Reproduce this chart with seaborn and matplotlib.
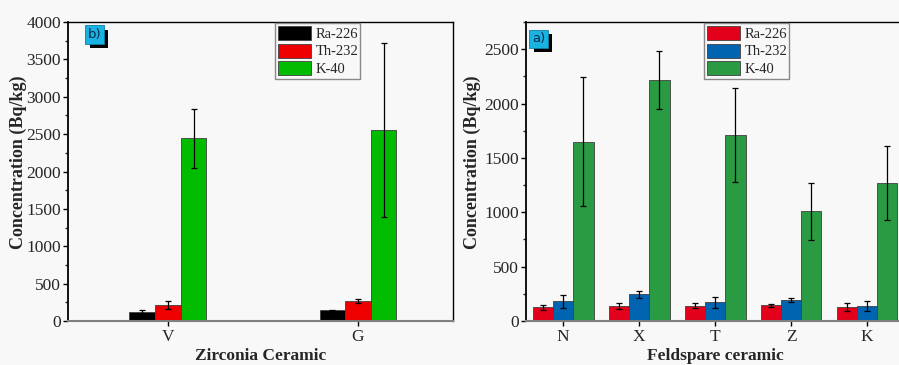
import numpy as np
import pandas as pd
import matplotlib
matplotlib.use('Agg')
import matplotlib.pyplot as plt
import matplotlib.patches as mpatches
import matplotlib.patheffects as pe
from matplotlib.ticker import MultipleLocator
import seaborn as sns

sns.set_style('ticks')
plt.rcParams['font.family'] = ['Liberation Serif', 'DejaVu Serif']

# data
isotopes = ['Ra-226', 'Th-232', 'K-40']

zr_samples = ['V', 'G']
zr_ra = [120, 145]
zr_th = [212, 265]
zr_k = [2445, 2555]
zr_ra_err = [27, 8]
zr_th_err = [55, 25]
zr_k_err = [392, 1165]

fs_samples = ['N', 'X', 'T', 'Z', 'K']
fs_ra = [125, 137, 142, 146, 126]
fs_th = [181, 245, 172, 190, 137]
fs_k = [1647, 2218, 1709, 1010, 1270]
fs_ra_err = [20, 26, 25, 14, 36]
fs_th_err = [60, 35, 50, 18, 47]
fs_k_err = [593, 264, 430, 262, 337]

zr_colors = ['#000000', '#ee0000', '#00bb00']
fs_colors = ['#e2001a', '#0064b0', '#2a9b43']

bg = '#f8f8f8'


def make_df(samples, ra, th, k):
    rows = []
    for iso, vals in zip(isotopes, [ra, th, k]):
        for s, v in zip(samples, vals):
            rows.append({'sample': s, 'isotope': iso, 'value': v})
    return pd.DataFrame(rows)


def draw_panel(ax, df, samples, errs, colors, width, ymax, xlim, ylabel, xlabel,
               tag, tag_xy, leg_x, ylab_x):
    ax.set_facecolor(bg)
    sns.barplot(data=df, x='sample', y='value', hue='isotope', order=samples,
                hue_order=isotopes, palette=colors, saturation=1, width=width,
                errorbar=None, edgecolor='#404040', linewidth=0.6, legend=False, ax=ax)
    # error bars from bar positions
    for cont, err in zip(ax.containers, errs):
        xs = [b.get_x() + b.get_width() / 2 for b in cont]
        ys = [b.get_height() for b in cont]
        ax.errorbar(xs, ys, yerr=err, fmt='none', ecolor='black', elinewidth=0.9,
                    capsize=2.3, capthick=0.9, zorder=5)
    ax.set_xlim(*xlim)
    ax.set_ylim(0, ymax)
    ax.yaxis.set_major_locator(MultipleLocator(500))
    ax.yaxis.set_minor_locator(MultipleLocator(250))
    ax.tick_params(axis='both', which='major', direction='out', length=3.5, width=1,
                   labelsize=12.5, pad=1.5, color='black')
    ax.tick_params(axis='x', which='major', pad=2)
    ax.tick_params(axis='y', which='minor', direction='out', length=2.5, width=1)
    ax.set_ylabel(ylabel, fontsize=13, fontweight='bold')
    ax.yaxis.set_label_coords(ylab_x, 0.53)
    ax.set_xlabel(xlabel, fontsize=12.5, fontweight='bold')
    ax.xaxis.set_label_coords(0.5, -0.09)
    for side in ['left', 'top', 'right']:
        ax.spines[side].set_color('black')
        ax.spines[side].set_linewidth(1.0)
    ax.spines['left'].set_linewidth(1.3)
    ax.spines['bottom'].set_color('#808080')
    ax.spines['bottom'].set_linewidth(1.5)

    handles = [mpatches.Patch(facecolor=c, edgecolor='#404040', linewidth=0.6, label=l)
               for c, l in zip(colors, isotopes)]
    leg = ax.legend(handles=handles, loc='upper left', bbox_to_anchor=(leg_x, 1.0),
                    fontsize=10.5, frameon=True, fancybox=False, handlelength=2.3,
                    handleheight=1.1, labelspacing=0.2, handletextpad=0.3,
                    borderpad=0.15, borderaxespad=0.1)
    leg.get_frame().set_edgecolor('#888888')
    leg.get_frame().set_linewidth(1.0)
    leg.get_frame().set_facecolor(bg)
    leg.get_frame().set_alpha(1)

    # panel tag in a cyan box with a black drop shadow
    t = ax.text(tag_xy[0], tag_xy[1], tag, transform=ax.transAxes, fontsize=9.5,
                va='top', ha='left', color='#0a2a4a', family='DejaVu Sans', zorder=7,
                bbox=dict(boxstyle='square,pad=0.2', facecolor='#1ab2e0',
                          edgecolor='#0c7fa8', linewidth=0.6))
    t.get_bbox_patch().set_path_effects([
        pe.SimplePatchShadow(offset=(3, -3), shadow_rgbFace='black', alpha=1),
        pe.Normal()])


fig = plt.figure(figsize=(8.99, 3.65), dpi=100, facecolor=bg)
ax_l = fig.add_axes([68 / 899, 44 / 365, 385 / 899, 299 / 365])
ax_r = fig.add_axes([526 / 899, 44 / 365, 379 / 899, 299 / 365])

draw_panel(ax_l, make_df(zr_samples, zr_ra, zr_th, zr_k), zr_samples,
           [zr_ra_err, zr_th_err, zr_k_err], zr_colors, 0.405, 4000, (-0.526, 1.5),
           'Concentration (Bq/kg)', 'Zirconia Ceramic', 'b)', (0.052, 0.98), 0.535, -0.106)
draw_panel(ax_r, make_df(fs_samples, fs_ra, fs_th, fs_k), fs_samples,
           [fs_ra_err, fs_th_err, fs_k_err], fs_colors, 0.8, 2750, (-0.49, 4.5),
           'Concentration (Bq/kg)', 'Feldspare ceramic', 'a)', (0.016, 0.965), 0.467, -0.119)
ax_r.spines['right'].set_visible(False)

fig.savefig('out.png', dpi=100, facecolor=bg)
